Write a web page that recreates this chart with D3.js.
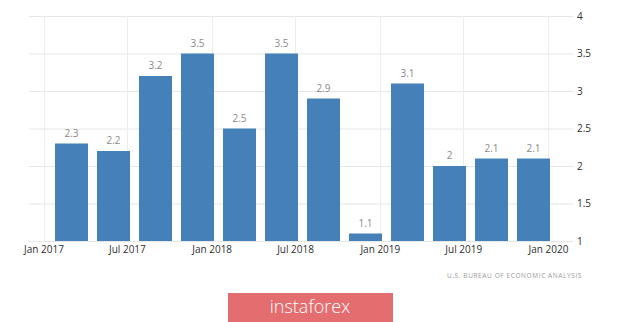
<!DOCTYPE html>
<html>
<head>
<meta charset="utf-8">
<script src="https://cdn.jsdelivr.net/npm/d3@7/dist/d3.min.js"></script>
<style>
  html, body { margin: 0; padding: 0; background: #fff; }
  svg { display: block; }
</style>
</head>
<body>
<svg id="chart" width="620" height="322"></svg>
<script>
// US real GDP growth, quarter over quarter annualized (%)
const quarters = ["2017 Q1", "2017 Q2", "2017 Q3", "2017 Q4",
                  "2018 Q1", "2018 Q2", "2018 Q3", "2018 Q4",
                  "2019 Q1", "2019 Q2", "2019 Q3", "2019 Q4"];
const growth = [2.3, 2.2, 3.2, 3.5, 2.5, 3.5, 2.9, 1.1, 3.1, 2.0, 2.1, 2.1];
const yTicks = [1, 1.5, 2, 2.5, 3, 3.5, 4];
const xTickDates = ["2017-01-01", "2017-07-01", "2018-01-01", "2018-07-01",
                    "2019-01-01", "2019-07-01", "2020-01-01"];
const sourceText = "U.S. BUREAU OF ECONOMIC ANALYSIS";
const brandText = "instaforex";

const svg = d3.select("#chart");
const font = "'Open Sans', 'Noto Sans', sans-serif";

const y = d3.scaleLinear().domain([1, 4]).range([241, 16]);
const xTime = d3.scaleTime()
  .domain([new Date(2017, 0, 1), new Date(2020, 0, 1)])
  .range([43.5, 548]);
const xBand = d3.scaleBand()
  .domain(quarters)
  .range([50.5, 554.5])
  .paddingInner(0.214)
  .paddingOuter(0.107);

// horizontal grid + right value axis
const yAxis = d3.axisRight(y)
  .tickValues(yTicks)
  .tickSize(-544)
  .tickPadding(4)
  .tickFormat(d3.format("~g"));
const gy = svg.append("g")
  .attr("transform", "translate(573,0)")
  .call(yAxis);
gy.select(".domain").remove();
gy.selectAll(".tick line").attr("stroke", "#e6e6e6").attr("stroke-width", 1);
gy.selectAll(".tick text")
  .attr("fill", "#2e2e2e")
  .attr("font-family", font)
  .attr("font-size", 10);

// vertical grid at the half-year ticks
const dates = xTickDates.map(d => d3.timeParse("%Y-%m-%d")(d));
svg.append("g").selectAll("line")
  .data(dates)
  .join("line")
  .attr("x1", d => Math.round(xTime(d)) + 0.5)
  .attr("x2", d => Math.round(xTime(d)) + 0.5)
  .attr("y1", 16)
  .attr("y2", 241)
  .attr("stroke", "#ececec");

// bars
svg.append("g").selectAll("rect")
  .data(quarters.map((q, i) => ({ q, v: growth[i] })))
  .join("rect")
  .attr("x", d => xBand(d.q))
  .attr("width", xBand.bandwidth())
  .attr("y", d => y(d.v))
  .attr("height", d => y(1) - y(d.v))
  .attr("fill", "#4581b8");

// value labels
svg.append("g").selectAll("text")
  .data(quarters.map((q, i) => ({ q, v: growth[i] })))
  .join("text")
  .attr("x", d => xBand(d.q) + xBand.bandwidth() / 2)
  .attr("y", d => y(d.v) - 7)
  .attr("text-anchor", "middle")
  .attr("fill", "#8a8a8a")
  .attr("font-family", font)
  .attr("font-size", 10)
  .text(d => d3.format("~g")(d.v));

// time axis labels
const xAxis = d3.axisBottom(xTime)
  .tickValues(dates)
  .tickSize(0)
  .tickPadding(5)
  .tickFormat(d3.timeFormat("%b %Y"));
const gx = svg.append("g")
  .attr("transform", "translate(0,241)")
  .call(xAxis);
gx.select(".domain").remove();
gx.selectAll(".tick text")
  .attr("fill", "#2e2e2e")
  .attr("font-family", font)
  .attr("font-size", 10);

// source note
svg.append("text")
  .attr("x", 582)
  .attr("y", 278)
  .attr("text-anchor", "end")
  .attr("fill", "#9a9a9a")
  .attr("font-family", font)
  .attr("font-size", 6.5)
  .attr("letter-spacing", 0.6)
  .text(sourceText);

// brand banner
svg.append("rect")
  .attr("x", 228)
  .attr("y", 293)
  .attr("width", 165)
  .attr("height", 29)
  .attr("fill", "#e46d6f");
svg.append("text")
  .attr("x", 310)
  .attr("y", 313)
  .attr("text-anchor", "middle")
  .attr("fill", "#fff")
  .attr("font-family", "'Open Sans', sans-serif")
  .attr("font-weight", 300)
  .attr("font-size", 18)
  .text(brandText);
</script>
</body>
</html>
